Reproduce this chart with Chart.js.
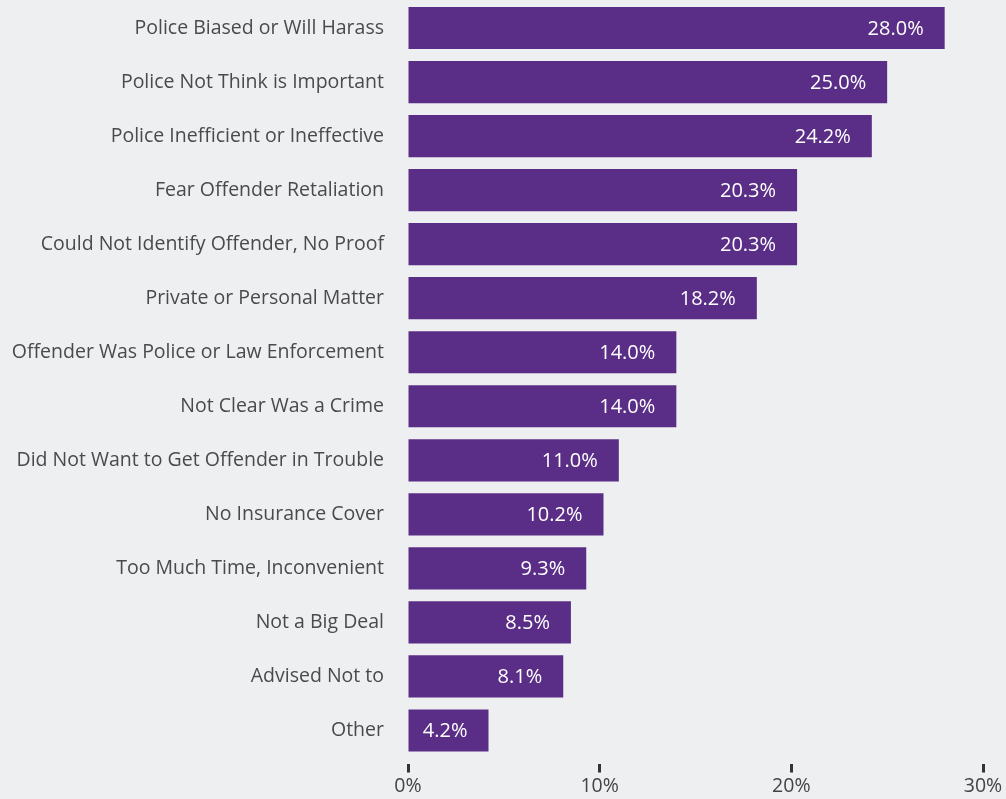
<!DOCTYPE html>
<html>
<head>
<meta charset="utf-8">
<script src="https://cdn.jsdelivr.net/npm/chart.js@4"></script>
<style>
  html, body { margin: 0; padding: 0; background: #EEEFF1; }
  #wrap { width: 1006px; height: 799px; position: relative; }
</style>
</head>
<body>
<div id="wrap"><canvas id="c" width="1006" height="799"></canvas></div>
<script>
const categories = [
  "Police Biased or Will Harass",
  "Police Not Think is Important",
  "Police Inefficient or Ineffective",
  "Fear Offender Retaliation",
  "Could Not Identify Offender, No Proof",
  "Private or Personal Matter",
  "Offender Was Police or Law Enforcement",
  "Not Clear Was a Crime",
  "Did Not Want to Get Offender in Trouble",
  "No Insurance Cover",
  "Too Much Time, Inconvenient",
  "Not a Big Deal",
  "Advised Not to",
  "Other"
];
const values = [28.0, 25.0, 24.2, 20.3, 20.3, 18.2, 14.0, 14.0, 11.0, 10.2, 9.3, 8.5, 8.1, 4.2];
const xTicks = [0, 10, 20, 30];

const FONT = "'Open Sans', sans-serif";

const valueLabels = {
  id: 'valueLabels',
  afterDatasetsDraw(chart) {
    const ctx = chart.ctx;
    const meta = chart.getDatasetMeta(0);
    ctx.save();
    ctx.fillStyle = '#FFFFFF';
    ctx.font = "20px " + FONT;
    ctx.textAlign = 'right';
    ctx.textBaseline = 'middle';
    meta.data.forEach((bar, i) => {
      ctx.fillText(values[i].toFixed(1) + '%', bar.x - 21, bar.y + 1);
    });
    ctx.restore();
  }
};

new Chart(document.getElementById('c'), {
  type: 'bar',
  data: {
    labels: categories,
    datasets: [{
      data: values,
      backgroundColor: '#5A2E87',
      barPercentage: 0.78,
      categoryPercentage: 1.0
    }]
  },
  plugins: [valueLabels],
  options: {
    indexAxis: 'y',
    responsive: false,
    animation: false,
    layout: { padding: { top: 1, right: 0, left: 0, bottom: 0 } },
    plugins: { legend: { display: false }, tooltip: { enabled: false } },
    scales: {
      x: {
        min: 0, max: 30,
        afterBuildTicks: s => { s.ticks = xTicks.map(v => ({ value: v })); },
        afterFit: s => { s.height = 41.5; s.paddingRight = 23; },
        border: { display: false },
        grid: {
          drawOnChartArea: false,
          drawTicks: true,
          tickLength: 15,
          tickWidth: 3,
          tickColor: '#333333',
          tickBorderDash: [0, 6, 9, 100]
        },
        ticks: {
          padding: 2,
          color: '#444444',
          font: { family: FONT, size: 19.5 },
          callback: v => v + '%'
        }
      },
      y: {
        afterFit: s => { s.width = 408; s.paddingTop = 0; s.paddingBottom = 0; },
        border: { display: false },
        grid: { display: false, drawTicks: false },
        ticks: {
          padding: 24,
          color: '#4A4A4A',
          font: { family: FONT, size: 19.5 }
        }
      }
    }
  }
});
</script>
</body>
</html>
